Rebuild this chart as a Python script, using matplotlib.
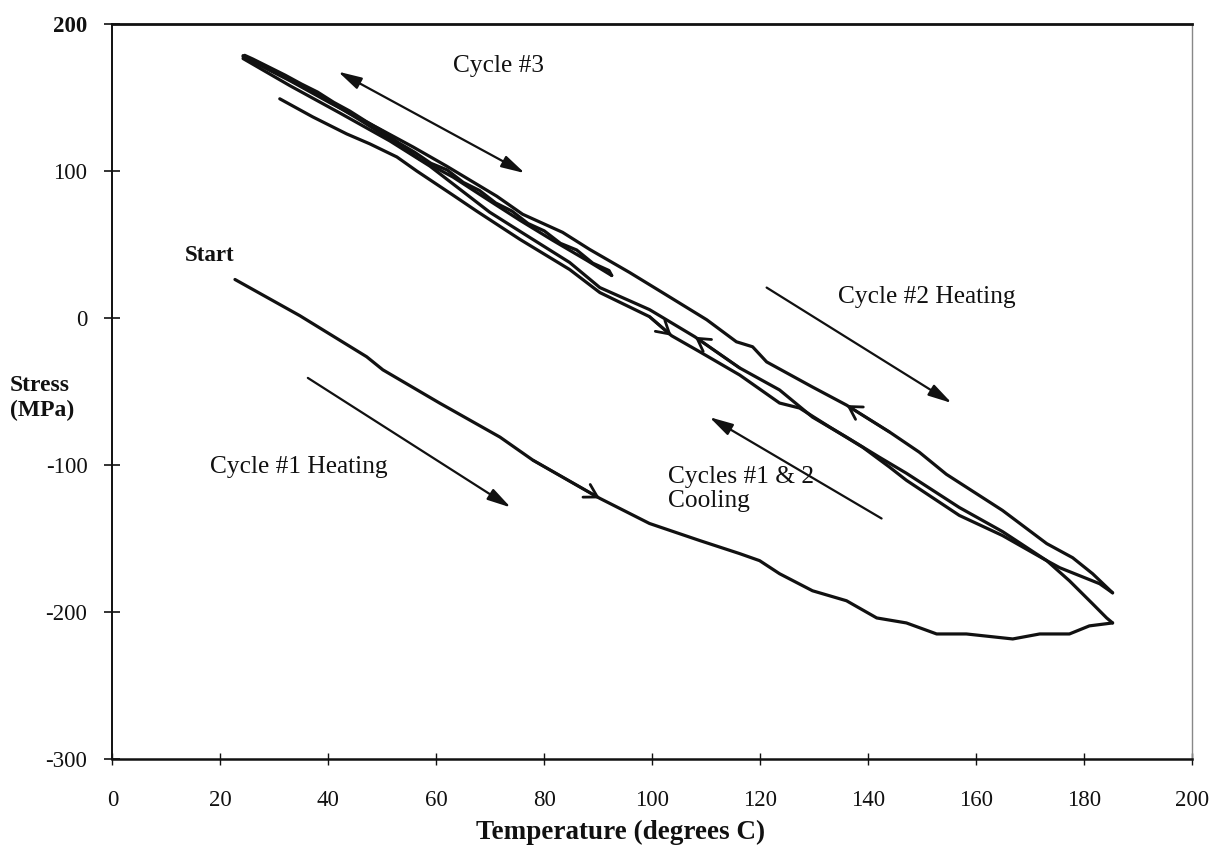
import matplotlib
matplotlib.use("Agg")
import matplotlib.pyplot as plt

plt.rcParams['font.family'] = ['Liberation Serif', 'DejaVu Serif']

# ---------------- data (Temperature in deg C, Stress in MPa) ----------------
c1_heat_T = [22.7, 34.7, 47.1, 50.1, 60.6, 71.8, 77.9, 90.3, 99.5, 108.8, 116.2, 119.9,
             123.6, 129.7, 136.0, 141.6, 147.1, 152.7, 158.2, 166.8, 171.8, 177.3, 181.0, 185.3]
c1_heat_S = [26.4, 1.8, -26.2, -35.1, -57.7, -80.9, -96.6, -122.6, -139.7, -151.3, -160.2, -165.0,
             -173.9, -185.5, -192.3, -204.0, -207.4, -214.9, -214.9, -218.3, -214.9, -214.9, -209.4, -207.4]

c1_cool_T = [185.3, 184.2, 181.6, 177.3, 173.1, 164.9, 156.9, 147.1, 144.0, 139.0, 132.9, 127.3,
             123.6, 116.2, 108.8, 103.6, 99.5, 90.3, 84.7, 75.5, 67.5, 63.1, 56.4, 52.7, 47.7, 43.4, 37.1, 31.0]
c1_cool_S = [-207.4, -204.0, -194.4, -178.7, -165.0, -147.9, -134.2, -110.3, -101.4, -87.8, -74.1, -61.1,
             -57.7, -38.6, -22.8, -11.9, 1.1, 17.5, 33.2, 53.7, 72.9, 83.8, 100.2, 109.8, 118.7, 125.5, 137.1, 149.4]

c2_heat_T = [24.2, 32.9, 40.3, 49.5, 55.7, 61.9, 71.2, 76.0, 83.4, 88.4, 95.8, 101.9, 110.1,
             115.6, 118.6, 121.2, 129.7, 136.0, 144.0, 149.5, 154.5, 164.9, 173.1, 177.9, 181.6, 185.3]
c2_heat_S = [178.1, 161.7, 146.7, 128.9, 116.6, 103.6, 83.1, 70.8, 58.5, 46.9, 31.2, 17.5, -1.0,
             -16.0, -19.4, -29.7, -46.8, -59.1, -77.5, -91.2, -106.2, -130.8, -153.4, -163.0, -173.9, -186.9]

c2_cool_T = [185.3, 182.9, 175.5, 173.1, 164.9, 156.9, 147.1, 142.1, 136.0, 129.7, 123.6, 116.2,
             107.9, 99.5, 90.3, 84.7, 75.5, 69.9, 67.5, 58.8, 51.4, 42.1, 32.9, 24.2]
c2_cool_S = [-186.9, -180.7, -169.8, -165.0, -145.2, -128.8, -105.5, -94.6, -80.9, -67.3, -48.8, -33.8,
             -12.6, 5.9, 20.9, 38.0, 59.2, 72.2, 79.0, 103.6, 120.7, 139.8, 158.3, 176.8]

c3_heat_T = [24.2, 31.0, 38.4, 45.8, 53.2, 56.9, 63.1, 69.4, 75.5, 81.6, 87.9, 92.5]
c3_heat_S = [178.8, 165.8, 151.5, 135.1, 118.0, 108.4, 96.1, 81.1, 66.7, 53.0, 39.4, 29.1]

c3_cool_T = [92.5, 92, 89, 86, 83, 80, 77, 74, 71, 68, 65, 62, 59, 56, 53, 50, 47, 44, 41,
             38, 35, 32, 29, 26, 24.5]
c3_cool_S = [29.1, 32.5, 37.5, 46.5, 51.0, 59.5, 64.5, 73.0, 78.5, 87.0, 92.5, 101.0, 105.5,
             113.0, 119.5, 127.5, 134.0, 141.0, 147.0, 154.0, 159.5, 165.5, 171.0, 176.5, 179.0]

x_ticks = [0, 20, 40, 60, 80, 100, 120, 140, 160, 180, 200]
y_ticks = [-300, -200, -100, 0, 100, 200]

# direction arrows drawn on the plot: (tail T, tail S, head T, head S)
cycle3_arrow = (41.8, 167.9, 76.4, 98.8)
cycle2_heat_arrow = (121.2, 20.9, 155.5, -57.7)
cooling_arrow = (142.5, -136.3, 110.6, -67.3)
cycle1_heat_arrow = (36.2, -40.6, 73.8, -128.8)

# ---------------- figure ----------------
fig = plt.figure(figsize=(12.21, 8.5), dpi=100)
ax = fig.add_axes([0.0921, 0.1071, 0.8841, 0.8641])
ink = '#111111'
lw = 2.3

for T, S in [(c1_heat_T, c1_heat_S), (c1_cool_T, c1_cool_S), (c2_heat_T, c2_heat_S),
             (c2_cool_T, c2_cool_S), (c3_heat_T, c3_heat_S), (c3_cool_T, c3_cool_S)]:
    ax.plot(T, S, color=ink, lw=lw, solid_capstyle='round', solid_joinstyle='round')

# open chevrons on the curves (head at idx, pointing from `frm` to idx)
def chevron(T, S, idx, frm):
    ax.annotate('', xy=(T[idx], S[idx]), xytext=(T[frm], S[frm]),
                arrowprops=dict(arrowstyle='->,head_length=0.6,head_width=0.35',
                                color=ink, lw=2.0, shrinkA=0, shrinkB=0,
                                mutation_scale=15))

chevron(c1_heat_T, c1_heat_S, 7, 6)
chevron(c1_cool_T, c1_cool_S, 15, 16)
chevron(c2_cool_T, c2_cool_S, 12, 11)
chevron(c2_heat_T, c2_heat_S, 17, 18)

# filled arrows
def farrow(a, style='-|>'):
    ax.annotate('', xy=(a[2], a[3]), xytext=(a[0], a[1]),
                arrowprops=dict(arrowstyle=style + ',head_length=0.95,head_width=0.25',
                                color=ink, lw=1.6, shrinkA=0, shrinkB=0,
                                mutation_scale=15))

farrow(cycle3_arrow, '<|-|>')
farrow(cycle2_heat_arrow)
farrow(cooling_arrow)
farrow(cycle1_heat_arrow)

fs = 18.3
ax.text(63.1, 167.8, 'Cycle #3', fontsize=fs, color=ink, va='baseline', ha='left')
ax.text(134.4, 10.7, 'Cycle #2 Heating', fontsize=fs, color=ink, va='baseline', ha='left')
ax.text(102.9, -112.4, 'Cycles #1 & 2', fontsize=fs, color=ink, va='baseline', ha='left')
ax.text(102.9, -128.8, 'Cooling', fontsize=fs, color=ink, va='baseline', ha='left')
ax.text(18.1, -105.5, 'Cycle #1 Heating', fontsize=fs, color=ink, va='baseline', ha='left')
ax.text(13.4, 38.7, 'Start', fontsize=16.5, color=ink, va='baseline', ha='left', fontweight='bold')

ax.set_xlim(0, 200)
ax.set_ylim(-300, 200)
ax.set_xticks(x_ticks)
ax.set_yticks(y_ticks)
ax.set_xticklabels([str(v) for v in x_ticks])
ax.set_yticklabels([str(v) for v in y_ticks])
ax.tick_params(axis='y', direction='inout', length=12, width=1.2, colors=ink,
               labelsize=16.5, pad=12)
ax.tick_params(axis='x', direction='inout', length=8, width=1.0, colors=ink,
               labelsize=16.5, pad=18)
ax.get_yticklabels()[-1].set_fontweight('bold')

for side in ['top', 'bottom', 'left']:
    ax.spines[side].set_color(ink)
ax.spines['top'].set_linewidth(2.0)
ax.spines['bottom'].set_linewidth(1.8)
ax.spines['left'].set_linewidth(1.4)
ax.spines['right'].set_color('#888888')
ax.spines['right'].set_linewidth(1.0)

fig.text(621 / 1221, 1 - 832 / 850, 'Temperature (degrees C)', fontsize=19.5,
         fontweight='bold', ha='center', va='center', color=ink)
fig.text(10 / 1221, 1 - 398 / 850, 'Stress\n(MPa)', fontsize=17, fontweight='bold',
         ha='left', va='center', color=ink, linespacing=1.2)

fig.savefig('out.png', dpi=100, facecolor='white')
